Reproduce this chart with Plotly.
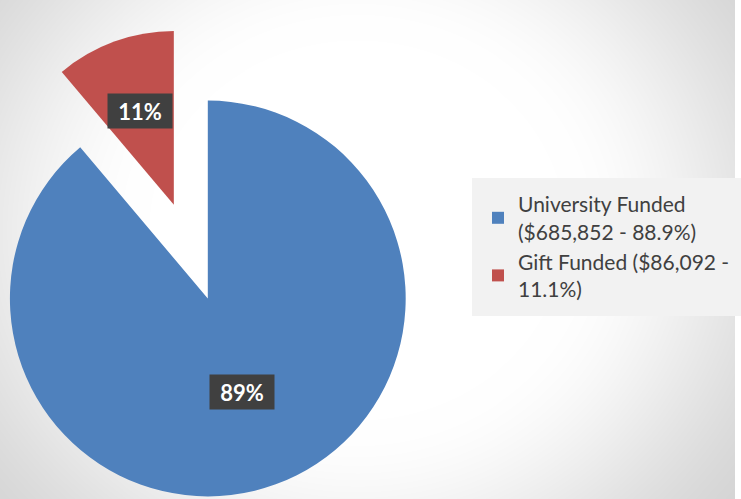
import base64
import math
import struct
import zlib

import numpy as np
import plotly.graph_objects as go

# ---------------- data ----------------
categories = ["University Funded", "Gift Funded"]
amounts = [685852, 86092]
legend_labels = [
    "University Funded<br>($685,852 - 88.9%)",
    "Gift Funded ($86,092 -<br>11.1%)",
]
slice_colors = ["#4F81BD", "#C0504D"]
gift_pull = 0.5  # exploded slice offset, fraction of the radius

# ---------------- figure geometry ----------------
W, H = 741, 499
pie_cx, pie_cy, pie_r = 209.5, 298.5, 199.5  # pixel centre / radius of the main pie

total = float(sum(amounts))
fracs = [a / total for a in amounts]
pct_text = ["{:d}%".format(int(round(100 * f))) for f in fracs]

# angle (clockwise from 12 o'clock) of each slice bisector
starts = np.cumsum([0.0] + [360.0 * f for f in fracs[:-1]])
mids = [s + 180.0 * f for s, f in zip(starts, fracs)]


def unit(theta_deg):
    t = math.radians(theta_deg)
    return math.sin(t), -math.cos(t)  # screen coords, y down


# centre of the exploded gift wedge
gdx, gdy = unit(mids[1])
gx = pie_cx + gift_pull * pie_r * gdx
gy = pie_cy + gift_pull * pie_r * gdy
g_r = min(pie_r, gx)


def dom(cx, cy, r):
    return dict(x=[max(0.0, (cx - r) / W), min(1.0, (cx + r) / W)],
                y=[max(0.0, (H - (cy + r)) / H), min(1.0, (H - (cy - r)) / H)])


# ---------------- background gradient image ----------------
yy, xx = np.mgrid[0:H, 0:W].astype(float)
rr = np.sqrt(((xx - 360) / 420.0) ** 2 + ((yy - 230) / 380.0) ** 2)
t = np.clip((rr - 0.5) / 0.75, 0, 1)
ss = t * t * (3 - 2 * t)
img = (255 - 44 * ss).astype(np.uint8)


def png_gray(a):
    h, w = a.shape
    raw = b"".join(b"\x00" + a[i].tobytes() for i in range(h))

    def chunk(tag, data):
        return (struct.pack(">I", len(data)) + tag + data +
                struct.pack(">I", zlib.crc32(tag + data) & 0xFFFFFFFF))

    return (b"\x89PNG\r\n\x1a\n" +
            chunk(b"IHDR", struct.pack(">IIBBBBB", w, h, 8, 0, 0, 0, 0)) +
            chunk(b"IDAT", zlib.compress(raw, 9)) +
            chunk(b"IEND", b""))


bg_src = "data:image/png;base64," + base64.b64encode(png_gray(img)).decode()

TRANSPARENT = "rgba(0,0,0,0)"
common = dict(labels=legend_labels, values=amounts, sort=False, direction="clockwise",
              rotation=0, textinfo="none", hoverinfo="label+value+percent",
              marker_line_width=0)

fig = go.Figure()
# legend carrier (tiny, effectively invisible pie)
fig.add_trace(go.Pie(**common, marker_colors=slice_colors, showlegend=True,
                     domain=dict(x=[0.80, 0.8001], y=[0.5, 0.5001])))
# main pie: university slice
fig.add_trace(go.Pie(**common, marker_colors=[slice_colors[0], TRANSPARENT],
                     showlegend=False, domain=dom(pie_cx, pie_cy, pie_r)))
# exploded gift slice
fig.add_trace(go.Pie(**common, marker_colors=[TRANSPARENT, slice_colors[1]],
                     showlegend=False, domain=dom(gx, gy, g_r)))

# data labels at half radius along each slice bisector
annots = []
ux, uy = unit(mids[0])
label_pos = [
    (pie_cx + 0.5 * pie_r * ux, pie_cy + 0.5 * pie_r * uy),
    (gx + 0.5 * pie_r * gdx, gy + 0.5 * pie_r * gdy),
]
for txt, (px, py) in zip(pct_text, label_pos):
    annots.append(dict(
        x=px / W, y=1 - py / H, xref="paper", yref="paper",
        text="<b>%s</b>" % txt, showarrow=False,
        xanchor="center", yanchor="middle",
        font=dict(family="Lato, 'Open Sans', sans-serif", size=22, color="white"),
        bgcolor="#404040", width=58, height=28, borderpad=3,
    ))

fig.update_layout(
    width=W, height=H,
    margin=dict(l=0, r=0, t=0, b=0),
    paper_bgcolor="white",
    images=[dict(source=bg_src, xref="paper", yref="paper", x=0, y=1,
                 sizex=1, sizey=1, xanchor="left", yanchor="top",
                 sizing="stretch", layer="below")],
    annotations=annots,
    showlegend=True,
    legend=dict(
        x=476 / W, y=1 - 178 / H, xanchor="left", yanchor="top",
        bgcolor="#f2f2f2", bordercolor="#f2f2f2", borderwidth=6,
        font=dict(family="Lato, 'Open Sans', sans-serif", size=21, color="#404040"),
        tracegroupgap=0,
    ),
)

fig.write_html(
    "out.html",
    config={"displayModeBar": False},
    post_script="document.body.style.margin='0';document.body.style.overflow='hidden';",
)
